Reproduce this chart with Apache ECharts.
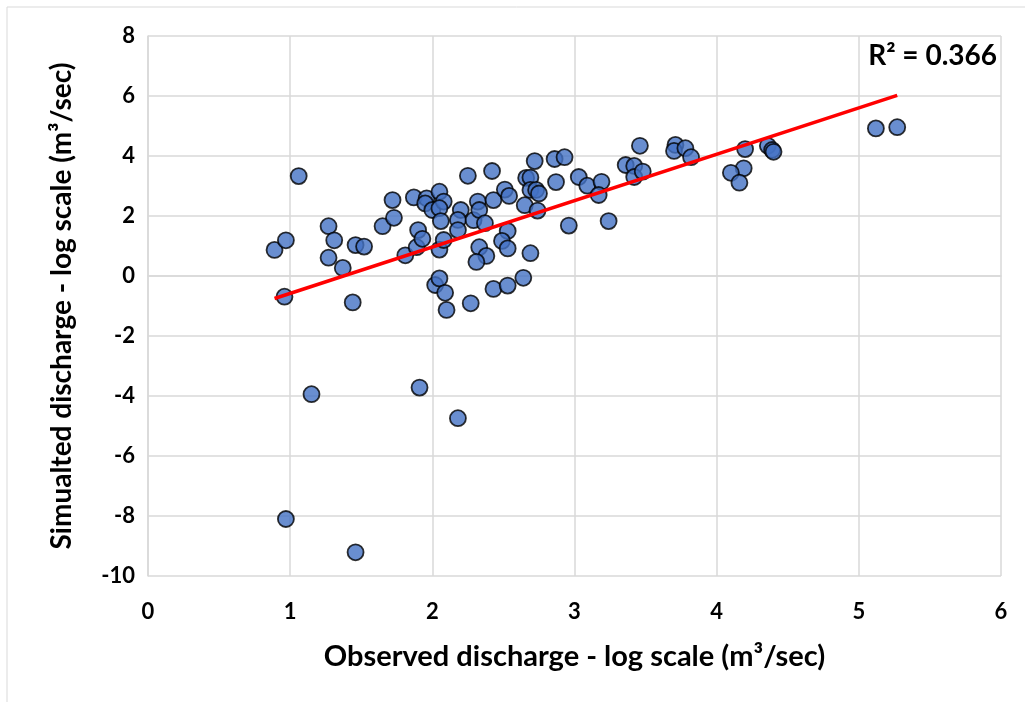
<!DOCTYPE html>
<html>
<head>
<meta charset="utf-8">
<script src="https://cdn.jsdelivr.net/npm/echarts@6/dist/echarts.min.js"></script>
<style>
  html, body { margin: 0; padding: 0; background: #fff; }
  #chart { width: 1025px; height: 702px; }
</style>
</head>
<body>
<div id="chart"></div>
<script>
// observed (x) vs simulated (y), log scale
const obsX = [
  0.89, 0.97, 0.96, 1.06, 1.27, 1.31, 1.27, 1.37, 1.44, 1.46,
  1.52, 1.65, 1.72, 1.73, 1.87, 1.81, 1.89, 1.90, 1.93, 1.96,
  1.95, 2.00, 2.05, 2.08, 2.05, 2.06, 2.05, 2.08, 2.02, 2.05,
  2.09, 2.10, 2.25, 2.42, 2.20, 2.18, 2.18, 2.29, 2.32, 2.33,
  2.37, 2.43, 2.51, 2.54, 2.53, 2.49, 2.53, 2.33, 2.38, 2.31,
  2.43, 2.53, 2.27, 2.72, 2.86, 2.93, 2.66, 2.69, 2.69, 2.73,
  2.75, 2.87, 2.65, 2.74, 2.69, 2.64, 2.96, 3.03, 3.09, 3.19,
  3.17, 3.24, 3.36, 3.42, 3.42, 3.46, 3.48, 3.71, 3.70, 3.78,
  3.82, 4.20, 4.19, 4.10, 4.16, 4.36, 4.39, 4.40, 5.12, 5.27,
  1.15, 1.91, 2.18, 0.97, 1.46
];
const simY = [
  0.87, 1.19, -0.69, 3.33, 1.66, 1.19, 0.61, 0.27, -0.88, 1.03,
  0.98, 1.66, 2.53, 1.94, 2.62, 0.69, 0.96, 1.53, 1.24, 2.59,
  2.42, 2.20, 2.81, 2.48, 2.26, 1.83, 0.88, 1.20, -0.30, -0.08,
  -0.56, -1.13, 3.34, 3.50, 2.20, 1.87, 1.53, 1.86, 2.48, 2.20,
  1.76, 2.53, 2.88, 2.67, 1.50, 1.17, 0.92, 0.96, 0.67, 0.47,
  -0.43, -0.32, -0.91, 3.83, 3.90, 3.96, 3.27, 3.28, 2.87, 2.87,
  2.75, 3.13, 2.36, 2.18, 0.76, -0.06, 1.68, 3.30, 3.01, 3.14,
  2.70, 1.83, 3.70, 3.67, 3.30, 4.34, 3.48, 4.37, 4.17, 4.26,
  3.96, 4.23, 3.59, 3.44, 3.11, 4.34, 4.20, 4.14, 4.92, 4.96,
  -3.94, -3.72, -4.74, -8.10, -9.21
];
// linear trendline end points
const trendX = [0.89, 5.27];
const trendY = [-0.75, 6.02];
const r2Label = "R² = 0.366";

const font = "Lato, 'Open Sans', sans-serif";

const chart = echarts.init(document.getElementById("chart"));
const option = {
  backgroundColor: "#fff",
  animation: false,
  grid: { left: 148, right: 24, top: 36, bottom: 126 },
  xAxis: {
    type: "value",
    min: 0,
    max: 6,
    interval: 1,
    name: "Observed discharge - log scale (m³/sec)",
    nameLocation: "middle",
    nameGap: 66,
    nameTextStyle: { fontFamily: font, fontWeight: "bold", fontSize: 29, color: "#000" },
    axisLine: { show: true, lineStyle: { color: "#d9d9d9", width: 1.5 } },
    axisTick: { show: false },
    axisLabel: { fontFamily: font, fontWeight: "bold", fontSize: 22, color: "#000", margin: 25 },
    splitLine: { show: true, lineStyle: { color: "#d9d9d9", width: 1.5 } }
  },
  yAxis: {
    type: "value",
    min: -10,
    max: 8,
    interval: 2,
    name: "Simualted discharge - log scale (m³/sec)",
    nameLocation: "middle",
    nameGap: 72,
    nameTextStyle: { fontFamily: font, fontWeight: "bold", fontSize: 28, color: "#000" },
    axisLine: { show: true, onZero: false, lineStyle: { color: "#d9d9d9", width: 1.5 } },
    axisTick: { show: false },
    axisLabel: { fontFamily: font, fontWeight: "bold", fontSize: 22, color: "#000", margin: 13 },
    splitLine: { show: true, lineStyle: { color: "#d9d9d9", width: 1.5 } }
  },
  series: [
    {
      type: "line",
      data: trendX.map((x, i) => [x, trendY[i]]),
      symbol: "none",
      lineStyle: { color: "#ff0000", width: 3.5 },
      z: 3
    },
    {
      type: "scatter",
      data: obsX.map((x, i) => [x, simY[i]]),
      symbolSize: 16,
      itemStyle: { color: "#4472c4", borderColor: "#000", borderWidth: 1.8 },
      z: 2
    }
  ],
  graphic: [
    {
      type: "rect",
      shape: { x: 7, y: 7, width: 1040, height: 720 },
      style: { fill: "none", stroke: "#d9d9d9", lineWidth: 1 },
      silent: true
    },
    {
      type: "text",
      right: 28,
      top: 42,
      style: { text: r2Label, fontFamily: font, fontWeight: "bold", fontSize: 28, fill: "#000" }
    }
  ]
};
chart.setOption(option);
</script>
</body>
</html>
